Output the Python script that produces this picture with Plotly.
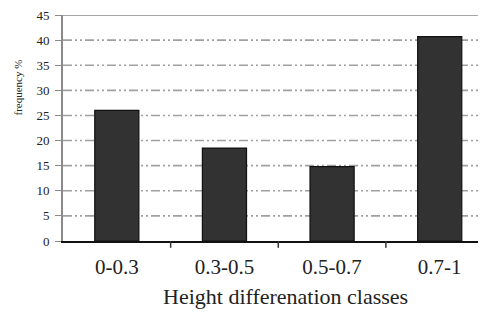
import plotly.graph_objects as go

categories = ["0-0.3", "0.3-0.5", "0.5-0.7", "0.7-1"]
frequency = [26.0, 18.5, 14.8, 40.7]
y_ticks = [0, 5, 10, 15, 20, 25, 30, 35, 40, 45]

fig = go.Figure()
fig.add_trace(go.Bar(
    x=list(range(len(categories))), y=frequency,
    width=0.41,
    marker=dict(color="#323232", line=dict(color="#111111", width=1.2)),
))

dash = "9px,3px,2px,3px,2px,3px"
for v in y_ticks[1:-1]:
    fig.add_shape(type="line", xref="paper", yref="y", x0=0, x1=1, y0=v, y1=v,
                  line=dict(color="#a0a0a0", width=1.6, dash=dash), layer="below")
fig.add_shape(type="line", xref="paper", yref="y", x0=0, x1=1, y0=45, y1=45,
              line=dict(color="#8a8a8a", width=1.5))

# page body has an 8px margin, so the figure is sized to the visible area
fig.update_layout(
    width=478, height=305,
    margin=dict(l=55, r=0, t=7, b=72),
    paper_bgcolor="white", plot_bgcolor="white",
    showlegend=False,
    font=dict(family="Liberation Serif", color="#222222"),
    xaxis=dict(
        range=[-0.5, 3.43], automargin=False,
        tickvals=list(range(len(categories))), ticktext=categories,
        tickfont=dict(size=21), showgrid=False, zeroline=False,
        showline=True, linecolor="#111111", linewidth=2,
        ticks="", ticklabelstandoff=6,
    ),
    yaxis=dict(
        range=[0, 45], tickvals=y_ticks, tickfont=dict(size=13),
        automargin=False, ticklabeloverflow="allow",
        showgrid=False, zeroline=False,
        showline=True, linecolor="#8a8a8a", linewidth=2,
        ticks="outside", ticklen=6, tickcolor="#8a8a8a", ticklabelstandoff=3,
    ),
    annotations=[
        dict(text="frequency %", xref="paper", yref="paper", x=-0.106, y=0.68,
             xanchor="center", yanchor="middle", textangle=-90, showarrow=False,
             font=dict(size=11, family="Liberation Serif", color="#222222")),
        dict(text="Height differenation classes", xref="paper", yref="paper",
             x=0.525, y=-0.245, xanchor="center", yanchor="middle", showarrow=False,
             font=dict(size=22, family="Liberation Serif", color="#222222")),
    ],
)

# category separator ticks on the x-axis
for b in [0.5, 1.5, 2.5]:
    fig.add_shape(type="line", xref="x", yref="paper", x0=b, x1=b, y0=0, y1=-0.03,
                  line=dict(color="#333333", width=1.5))

fig.write_html("out.html")
